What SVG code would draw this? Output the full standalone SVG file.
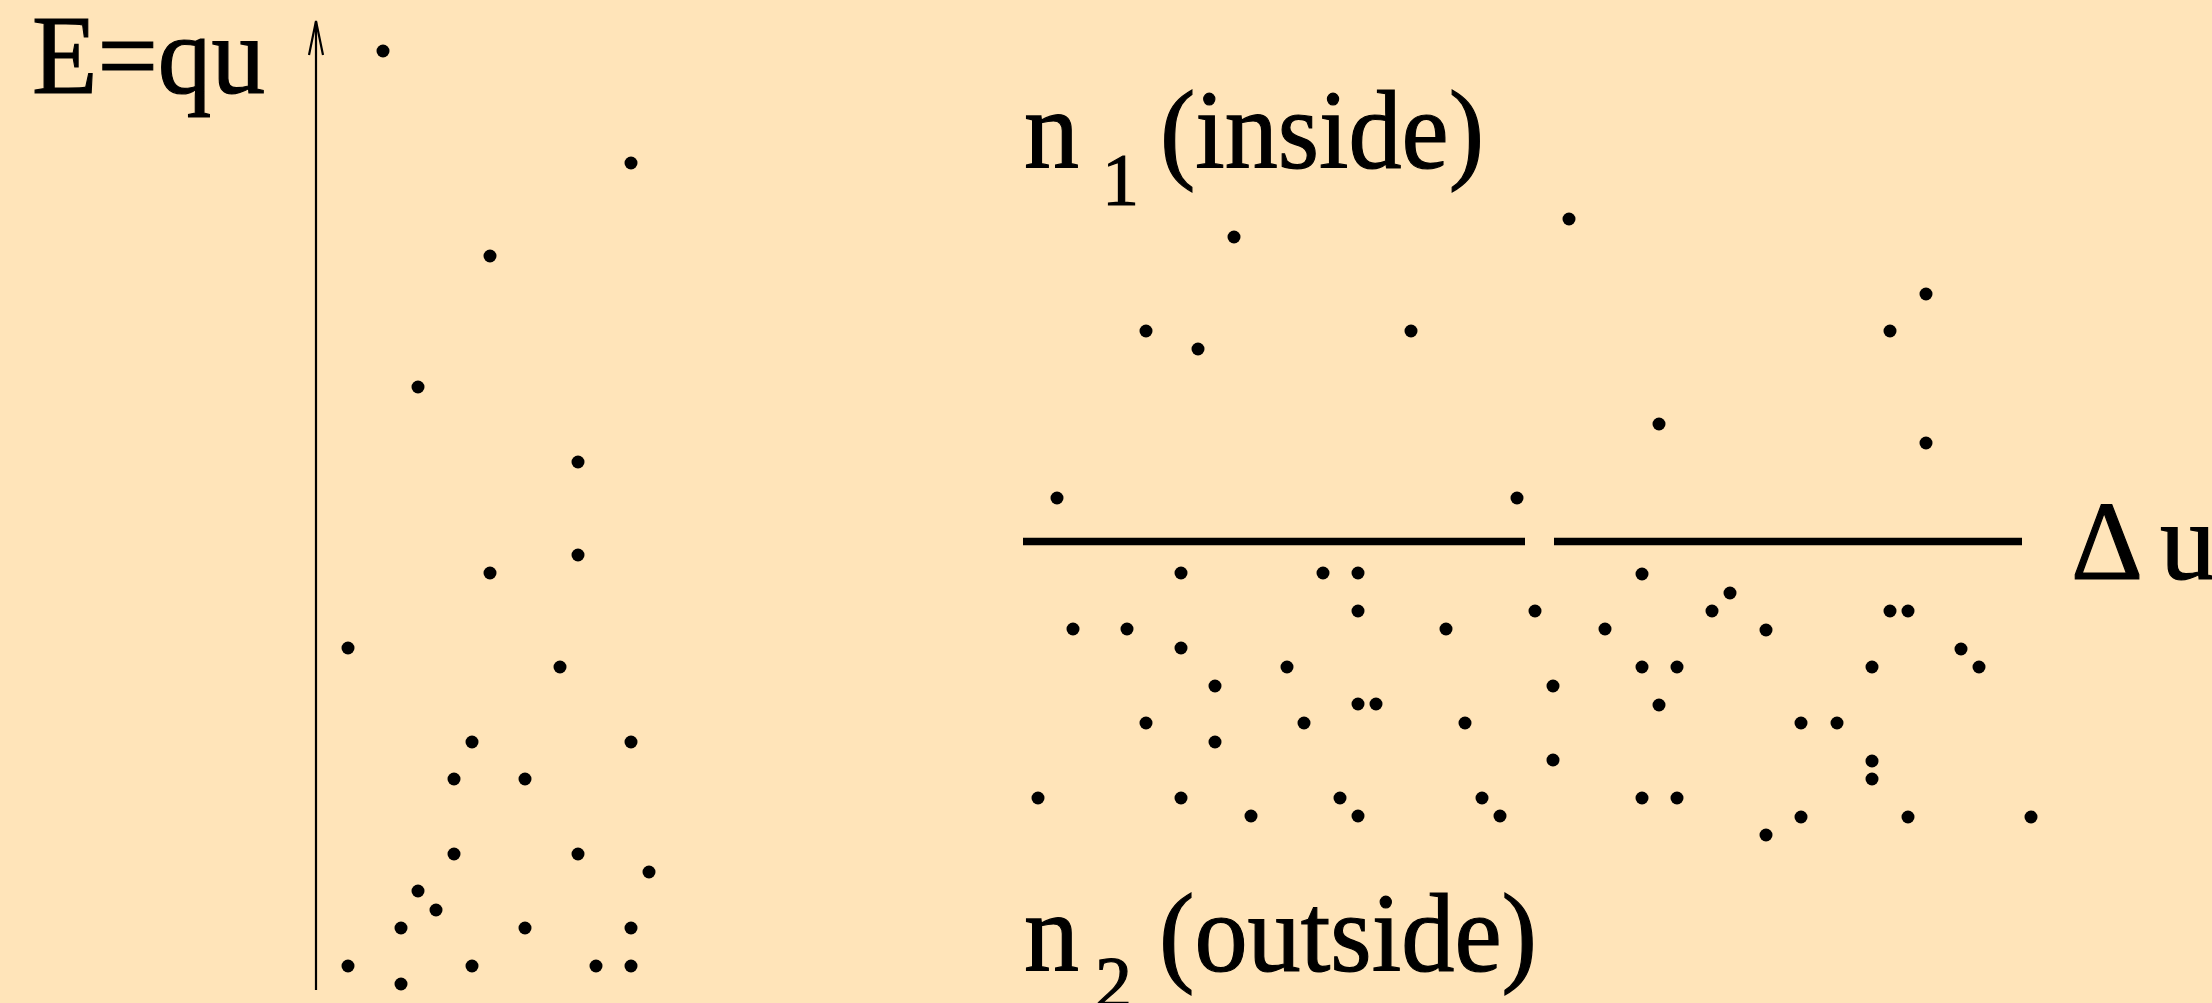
<svg xmlns="http://www.w3.org/2000/svg" xmlns:xlink="http://www.w3.org/1999/xlink" width="2212" height="1003" viewBox="0 0 2212 1003">
<style>
.t{font-family:"Liberation Serif","Times New Roman",serif;fill:#000;stroke:#000;stroke-width:1.2}
.big{font-size:112px}
.sub{font-size:74px}
.d{fill:#000}
.ax{stroke:#000;stroke-width:2.2;fill:none}
.lev{stroke:#000;stroke-width:7.5}
</style>
<defs><circle id="dot" r="6.5" class="d"/></defs>
<rect width="2212" height="1003" fill="#FFE4B9"/>
<g id="axis">
<line class="ax" x1="316" y1="990" x2="316" y2="22"/>
<polyline class="ax" points="309,55 316,21 323,55"/>
</g>
<g id="label-E"><text class="t big" x="32" y="93" textLength="233" lengthAdjust="spacingAndGlyphs">E=qu</text></g>
<g id="label-n1">
<text class="t big" x="1024" y="168" textLength="55" lengthAdjust="spacingAndGlyphs">n</text>
<text class="t sub" x="1102" y="205">1</text>
<text class="t big" x="1160" y="168" textLength="324" lengthAdjust="spacingAndGlyphs">(inside)</text>
</g>
<g id="label-n2">
<text class="t big" x="1024" y="971" textLength="55" lengthAdjust="spacingAndGlyphs">n</text>
<text class="t sub" x="1095" y="1008">2</text>
<text class="t big" x="1159" y="971" textLength="378" lengthAdjust="spacingAndGlyphs">(outside)</text>
</g>
<g id="label-du"><text class="t big" x="2071" y="579">Δ <tspan x="2160">u</tspan></text></g>
<g id="levels">
<line class="lev" x1="1023" y1="541.5" x2="1525" y2="541.5"/>
<line class="lev" x1="1554" y1="541.5" x2="2022" y2="541.5"/>
</g>
<g id="dots-left">
<use xlink:href="#dot" x="383" y="51"/><use xlink:href="#dot" x="631" y="163"/><use xlink:href="#dot" x="490" y="256"/><use xlink:href="#dot" x="418" y="387"/><use xlink:href="#dot" x="578" y="462"/>
<use xlink:href="#dot" x="578" y="555"/><use xlink:href="#dot" x="490" y="573"/><use xlink:href="#dot" x="348" y="648"/><use xlink:href="#dot" x="560" y="667"/>
<use xlink:href="#dot" x="472" y="742"/><use xlink:href="#dot" x="631" y="742"/><use xlink:href="#dot" x="454" y="779"/><use xlink:href="#dot" x="525" y="779"/>
<use xlink:href="#dot" x="454" y="854"/><use xlink:href="#dot" x="578" y="854"/><use xlink:href="#dot" x="649" y="872"/><use xlink:href="#dot" x="418" y="891"/>
<use xlink:href="#dot" x="436" y="910"/><use xlink:href="#dot" x="401" y="928"/><use xlink:href="#dot" x="525" y="928"/><use xlink:href="#dot" x="631" y="928"/>
<use xlink:href="#dot" x="348" y="966"/><use xlink:href="#dot" x="472" y="966"/><use xlink:href="#dot" x="596" y="966"/><use xlink:href="#dot" x="631" y="966"/><use xlink:href="#dot" x="401" y="984"/>
</g>
<g id="dots-inside">
<use xlink:href="#dot" x="1234" y="237"/><use xlink:href="#dot" x="1569" y="219"/><use xlink:href="#dot" x="1146" y="331"/><use xlink:href="#dot" x="1198" y="349"/>
<use xlink:href="#dot" x="1411" y="331"/><use xlink:href="#dot" x="1057" y="498"/><use xlink:href="#dot" x="1517" y="498"/><use xlink:href="#dot" x="1926" y="294"/>
<use xlink:href="#dot" x="1890" y="331"/><use xlink:href="#dot" x="1659" y="424"/><use xlink:href="#dot" x="1926" y="443"/>
</g>
<g id="dots-outside">
<use xlink:href="#dot" x="1181" y="573"/><use xlink:href="#dot" x="1323" y="573"/><use xlink:href="#dot" x="1358" y="573"/><use xlink:href="#dot" x="1358" y="611"/>
<use xlink:href="#dot" x="1535" y="611"/><use xlink:href="#dot" x="1073" y="629"/><use xlink:href="#dot" x="1127" y="629"/><use xlink:href="#dot" x="1446" y="629"/>
<use xlink:href="#dot" x="1605" y="629"/><use xlink:href="#dot" x="1181" y="648"/><use xlink:href="#dot" x="1287" y="667"/><use xlink:href="#dot" x="1215" y="686"/>
<use xlink:href="#dot" x="1553" y="686"/><use xlink:href="#dot" x="1358" y="704"/><use xlink:href="#dot" x="1376" y="704"/><use xlink:href="#dot" x="1146" y="723"/>
<use xlink:href="#dot" x="1304" y="723"/><use xlink:href="#dot" x="1465" y="723"/><use xlink:href="#dot" x="1215" y="742"/><use xlink:href="#dot" x="1553" y="760"/>
<use xlink:href="#dot" x="1038" y="798"/><use xlink:href="#dot" x="1181" y="798"/><use xlink:href="#dot" x="1340" y="798"/><use xlink:href="#dot" x="1482" y="798"/>
<use xlink:href="#dot" x="1251" y="816"/><use xlink:href="#dot" x="1358" y="816"/><use xlink:href="#dot" x="1500" y="816"/>
<use xlink:href="#dot" x="1642" y="574"/><use xlink:href="#dot" x="1730" y="593"/><use xlink:href="#dot" x="1712" y="611"/><use xlink:href="#dot" x="1890" y="611"/>
<use xlink:href="#dot" x="1908" y="611"/><use xlink:href="#dot" x="1766" y="630"/><use xlink:href="#dot" x="1961" y="649"/><use xlink:href="#dot" x="1642" y="667"/>
<use xlink:href="#dot" x="1677" y="667"/><use xlink:href="#dot" x="1872" y="667"/><use xlink:href="#dot" x="1979" y="667"/><use xlink:href="#dot" x="1659" y="705"/>
<use xlink:href="#dot" x="1801" y="723"/><use xlink:href="#dot" x="1837" y="723"/><use xlink:href="#dot" x="1872" y="761"/><use xlink:href="#dot" x="1872" y="779"/>
<use xlink:href="#dot" x="1642" y="798"/><use xlink:href="#dot" x="1677" y="798"/><use xlink:href="#dot" x="1801" y="817"/><use xlink:href="#dot" x="1908" y="817"/>
<use xlink:href="#dot" x="2031" y="817"/><use xlink:href="#dot" x="1766" y="835"/>
</g>
</svg>
